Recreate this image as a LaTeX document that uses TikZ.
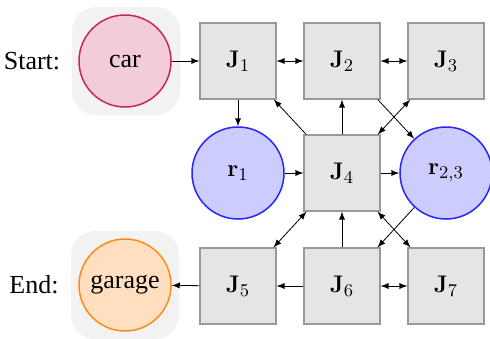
\documentclass[tikz,border=0pt]{standalone}
\usepackage[no-math]{fontspec}
\setmainfont{Liberation Serif}
\usetikzlibrary{arrows}
\begin{document}
\begin{tikzpicture}[x=0.5pt,y=-0.5pt,
  font=\fontsize{13}{15}\selectfont,
  jbox/.style={draw=gray!80, fill=gray!20, line width=0.6pt, minimum size=38pt, inner sep=0pt},
  rcirc/.style={circle, draw=blue!85, fill=blue!20, line width=0.75pt, minimum size=46pt, inner sep=0pt},
  bgbox/.style={fill=gray!10, rounded corners=12pt, minimum size=54pt, inner sep=0pt},
  edge/.style={-latex, line width=0.4pt},
  bedge/.style={latex-latex, line width=0.4pt}]
\useasboundingbox (0,0) rectangle (490,338);
\node[bgbox] (bgcar) at (126,61) {};
\node[bgbox] (bggar) at (125,285) {};
\node (start) at (32,61) {Start:};
\node (end) at (34,285) {End:};
\node[circle, draw=purple!85, fill=purple!20, line width=0.75pt, minimum size=46pt, inner sep=0pt] (car) at (125,61) {car};
\node[circle, draw=orange!90, fill=orange!25, line width=0.75pt, minimum size=46pt, inner sep=0pt] (garage) at (125,285) {garage};
\node[jbox] (J1) at (238,61) {$\mathbf{J}_1$};
\node[jbox] (J2) at (342,61) {$\mathbf{J}_2$};
\node[jbox] (J3) at (446,61) {$\mathbf{J}_3$};
\node[rcirc] (r1) at (238,173) {$\mathbf{r}_1$};
\node[jbox] (J4) at (342,173) {$\mathbf{J}_4$};
\node[rcirc] (r23) at (446,173) {$\mathbf{r}_{2,3}$};
\node[jbox] (J5) at (238,286) {$\mathbf{J}_5$};
\node[jbox] (J6) at (342,286) {$\mathbf{J}_6$};
\node[jbox] (J7) at (446,286) {$\mathbf{J}_7$};
\draw[edge] (car) -- (J1);
\draw[bedge] (J1) -- (J2);
\draw[bedge] (J2) -- (J3);
\draw[edge] (J1) -- (r1);
\draw[edge] (J4) -- (J1);
\draw[edge] (J4) -- (J2);
\draw[bedge] (J4) -- (J3);
\draw[edge] (J2) -- (r23);
\draw[edge] (r1) -- (J4);
\draw[edge] (J4) -- (r23);
\draw[bedge] (J4) -- (J5);
\draw[edge] (J6) -- (J4);
\draw[bedge] (J4) -- (J7);
\draw[edge] (r23) -- (J6);
\draw[edge] (J6) -- (J5);
\draw[bedge] (J6) -- (J7);
\draw[edge] (J5) -- (garage);
\end{tikzpicture}
\end{document}
